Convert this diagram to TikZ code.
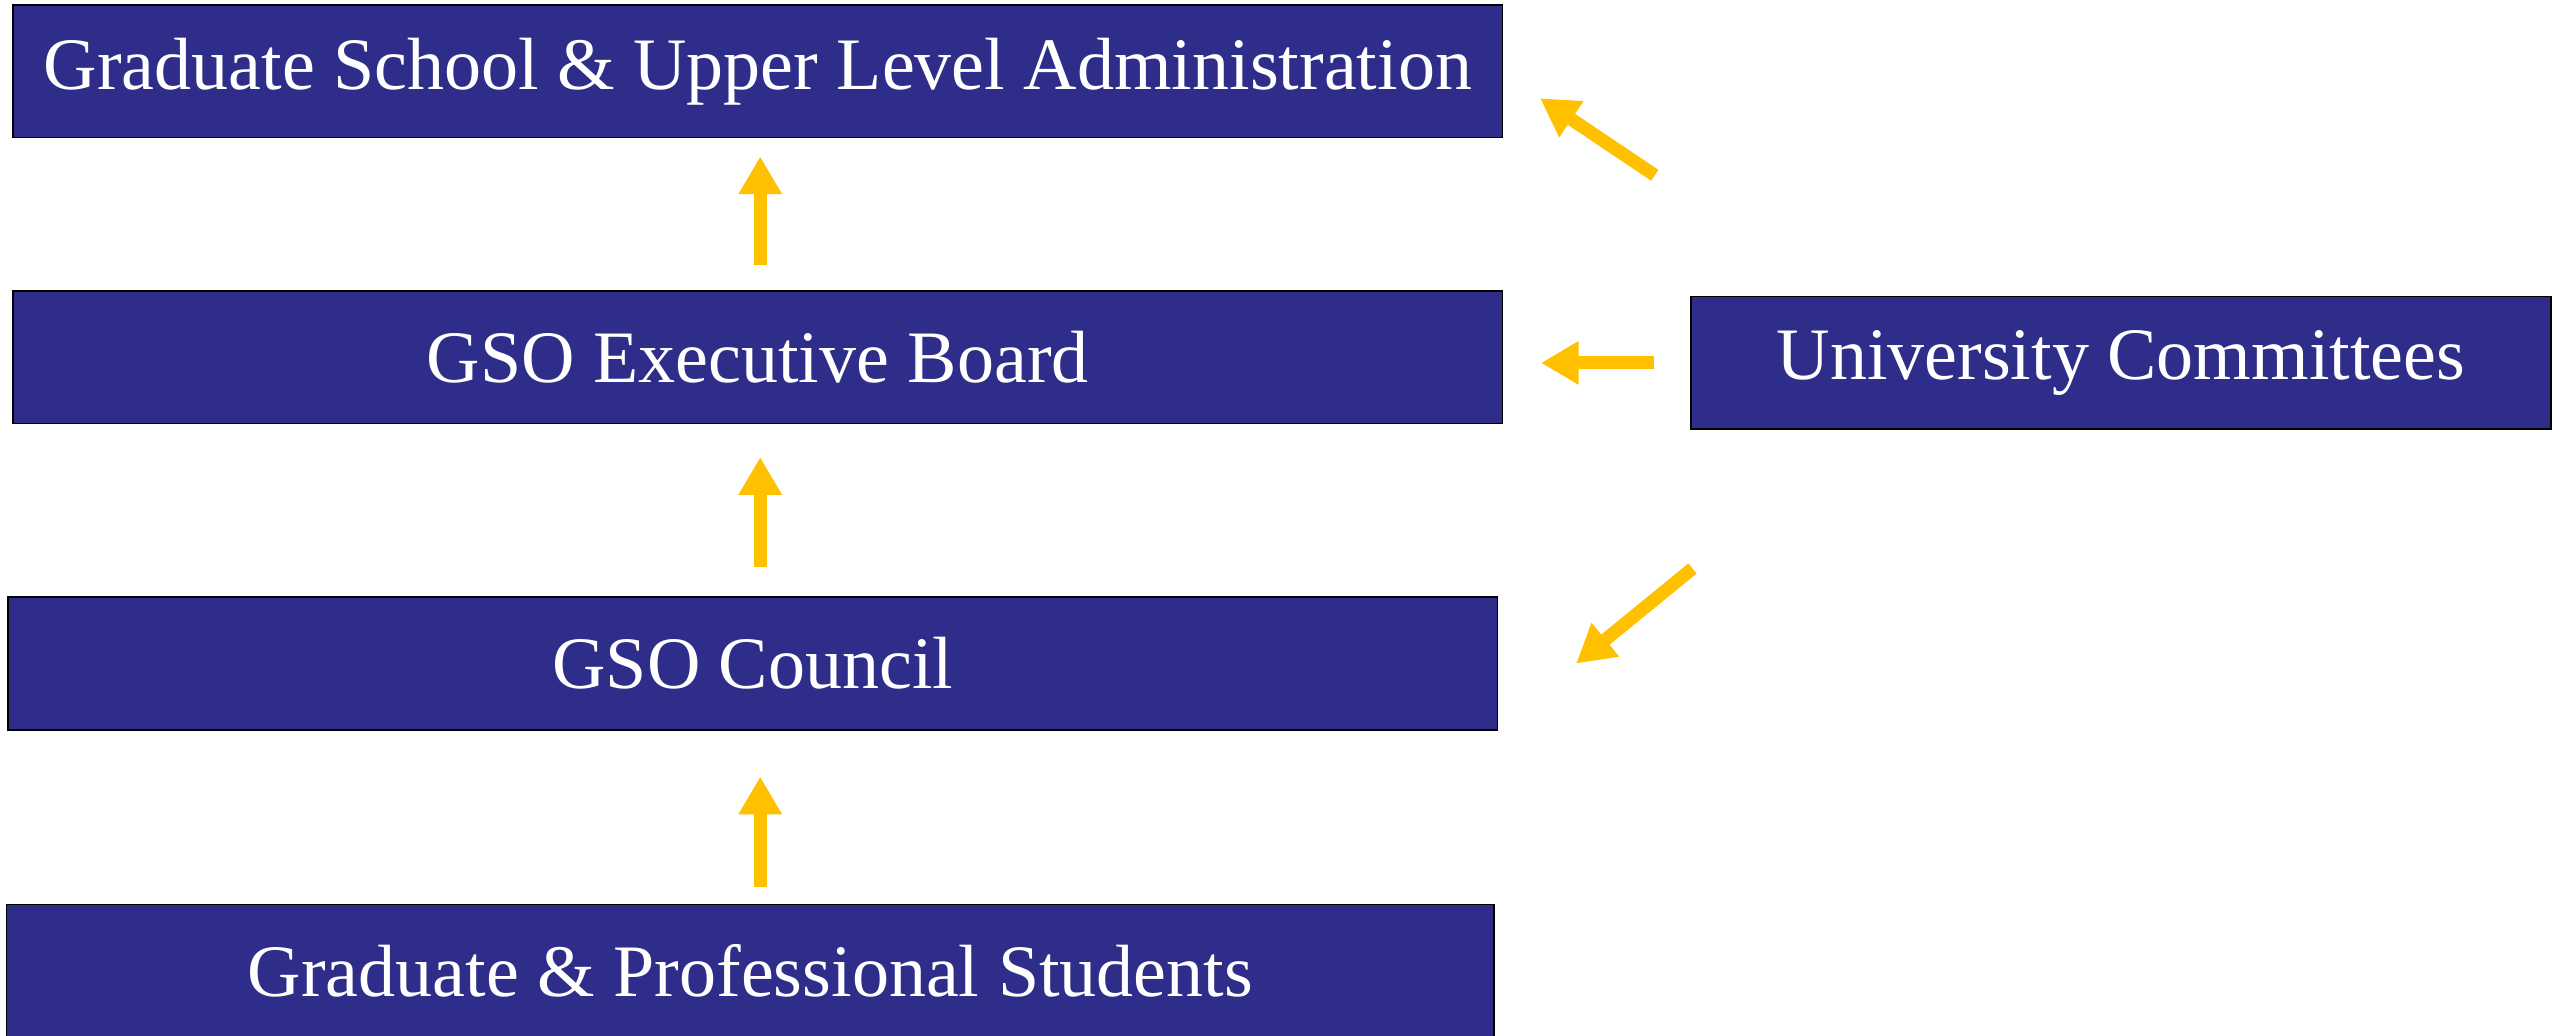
\documentclass[tikz,border=0pt]{standalone}
\usepackage{fontspec}
\setmainfont{Liberation Serif}
\usetikzlibrary{arrows.meta}
\definecolor{gsoblue}{RGB}{46,46,138}
\definecolor{gsogold}{RGB}{255,192,0}

\begin{document}
\begin{tikzpicture}[
  box/.style={draw=black, line width=0.6pt, fill=gsoblue, text=white, inner sep=0pt,
    minimum height=1.62cm, font=\fontsize{25.7}{31}\selectfont},
  flow/.style={draw=gsogold, line width=0.16cm,
    -{Triangle[width=0.5cm,length=0.46cm]}}
]
  \useasboundingbox (0,0) rectangle (31.36,12.64);
  \clip (0,0) rectangle (31.36,12.64);
  % Levels of the chain
  \node[box, minimum width=18.18cm] (admin) at (9.25,11.77) {Graduate School \& Upper Level Administration};
  \node[box, minimum width=18.18cm] (exec) at (9.25,8.28) {GSO Executive Board};
  \node[box, minimum width=18.18cm] (council) at (9.19,4.54) {GSO Council};
  \node[box, minimum width=18.16cm] (students) at (9.16,0.79) {Graduate \& Professional Students};
  % Committees on the side
  \node[box, minimum width=10.5cm] (univ) at (25.89,8.21) {University Committees};
  % Arrows up the chain
  \coordinate (spine) at (9.28,0);
  \draw[flow, shorten <=0.20cm, shorten >=0.56cm] (students.north -| spine) -- (council.south -| spine);
  \draw[flow, shorten <=0.36cm, shorten >=0.40cm] (council.north -| spine) -- (exec.south -| spine);
  \draw[flow, shorten <=0.30cm, shorten >=0.22cm] (exec.north -| spine) -- (admin.south -| spine);
  % Arrows from the committees
  \draw[flow, shorten <=0.44cm, shorten >=0.46cm] (univ.west) -- (univ.west -| exec.east);
  \coordinate (upfoot) at (20.2,10.5);
  \coordinate (uptip) at (18.8,11.44);
  \coordinate (downfoot) at (20.66,5.70);
  \coordinate (downtip) at (19.24,4.54);
  \draw[flow] (upfoot) -- (uptip);
  \draw[flow] (downfoot) -- (downtip);
\end{tikzpicture}
\end{document}
